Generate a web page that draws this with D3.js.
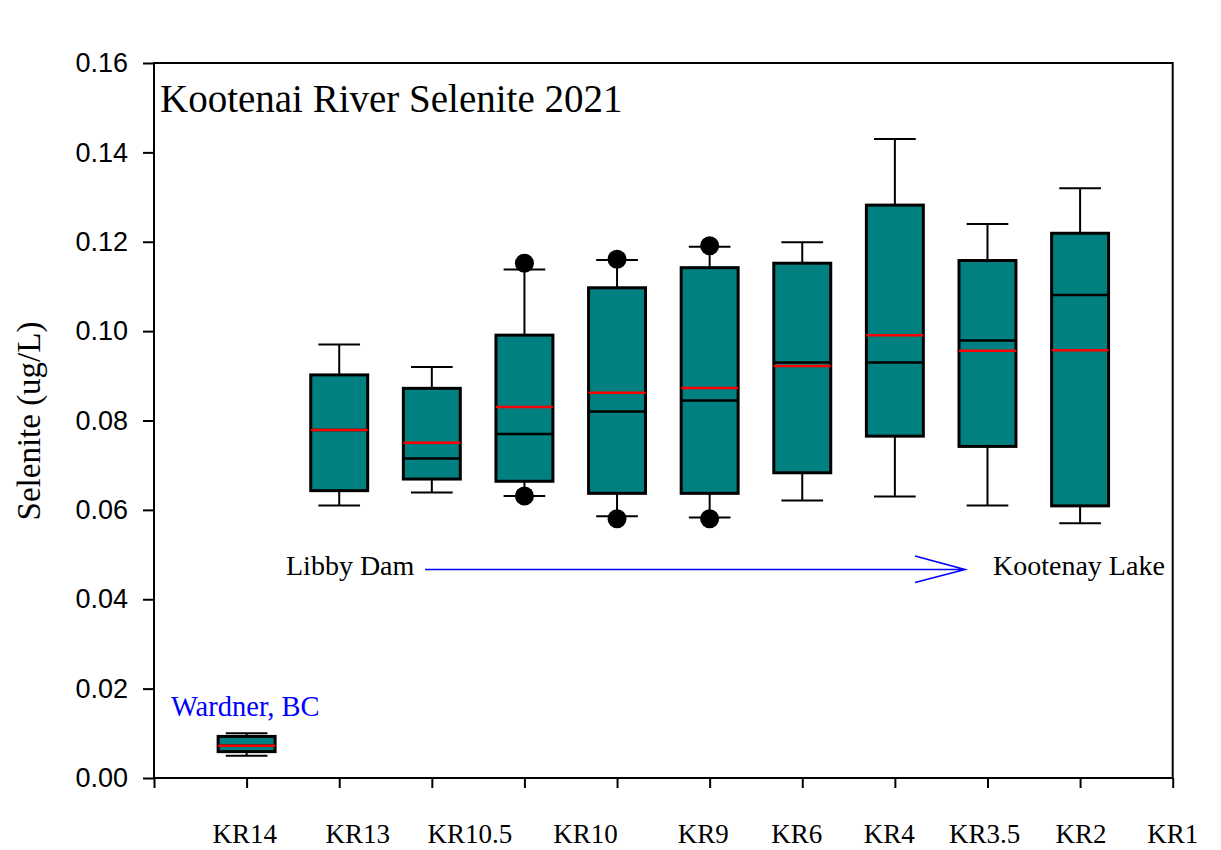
<!DOCTYPE html>
<html>
<head>
<meta charset="utf-8">
<script src="https://cdn.jsdelivr.net/npm/d3@7"></script>
<style>
  body { margin: 0; background: #fff; }
  svg { display: block; }
</style>
</head>
<body>
<svg id="chart" width="1221" height="850"></svg>
<script>
// site labels along the bottom, and where they were placed (in tick units)
var siteLabels = ["KR14", "KR13", "KR10.5", "KR10", "KR9", "KR6", "KR4", "KR3.5", "KR2", "KR1"];
var labelPos = [0.98, 2.20, 3.41, 4.66, 5.93, 6.94, 7.94, 8.97, 10.01, 11.0];

// box statistics, one per box position
var boxPos  = [1, 2, 3, 4, 5, 6, 7, 8, 9, 10];
var whiskLo = [0.0050, 0.0610, 0.0639, 0.0631, 0.0586, 0.0583, 0.0621, 0.0630, 0.0610, 0.0570];
var q1      = [0.0059, 0.0643, 0.0669, 0.0664, 0.0637, 0.0637, 0.0683, 0.0765, 0.0742, 0.0609];
var median  = [0.0072, 0.0779, 0.0715, 0.0770, 0.0820, 0.0845, 0.0930, 0.0930, 0.0979, 0.1081];
var mean    = [0.0072, 0.0779, 0.0750, 0.0830, 0.0862, 0.0873, 0.0922, 0.0991, 0.0956, 0.0957];
var q3      = [0.0093, 0.0902, 0.0872, 0.0991, 0.1097, 0.1142, 0.1152, 0.1282, 0.1158, 0.1219];
var whiskHi = [0.0100, 0.0970, 0.0920, 0.1138, 0.1159, 0.1189, 0.1199, 0.1430, 0.1240, 0.1320];

// outlying points
var outPos = [4, 4, 5, 5, 6, 6];
var outVal = [0.1152, 0.0631, 0.1161, 0.0580, 0.1191, 0.0580];

var yTicks = [0, 0.02, 0.04, 0.06, 0.08, 0.10, 0.12, 0.14, 0.16];

(function() {
var svg = d3.select("#chart");
var pLeft = 154, pTop = 63, pRight = 1172.7, pBottom = 778;

var x = d3.scaleLinear().domain([0, 11]).range([pLeft, pRight]);
var y = d3.scaleLinear().domain([0, 0.16]).range([pBottom, pTop]);

var serif = "'Liberation Serif', 'Times New Roman', serif";
var sans = "'Liberation Sans', Arial, sans-serif";

// y axis
var yAxis = svg.append("g")
  .attr("transform", "translate(" + pLeft + ",0)")
  .call(d3.axisLeft(y).tickValues(yTicks).tickFormat(d3.format(".2f")).tickSize(11).tickPadding(15));
yAxis.select(".domain").remove();
yAxis.selectAll("line").attr("stroke", "#000").attr("stroke-width", 2);
yAxis.selectAll("text").attr("font-family", sans).attr("font-size", 27).attr("fill", "#000");

// x axis ticks only
var xAxis = svg.append("g")
  .attr("transform", "translate(0," + pBottom + ")")
  .call(d3.axisBottom(x).tickValues(d3.range(0, 12)).tickFormat("").tickSize(10));
xAxis.select(".domain").remove();
xAxis.selectAll("line").attr("stroke", "#000").attr("stroke-width", 2);

// frame
svg.append("rect")
  .attr("x", pLeft).attr("y", pTop)
  .attr("width", pRight - pLeft).attr("height", pBottom - pTop)
  .attr("fill", "none").attr("stroke", "#000").attr("stroke-width", 2);

// x labels
svg.append("g").selectAll("text")
  .data(siteLabels)
  .join("text")
  .attr("x", function(d, i) { return x(labelPos[i]); })
  .attr("y", 843)
  .attr("text-anchor", "middle")
  .attr("font-family", serif)
  .attr("font-size", 27)
  .text(function(d) { return d; });

// y title
svg.append("text")
  .attr("transform", "translate(40,421) rotate(-90)")
  .attr("text-anchor", "middle")
  .attr("font-family", serif)
  .attr("font-size", 33)
  .text("Selenite (ug/L)");

// title
svg.append("text")
  .attr("x", 160).attr("y", 112)
  .attr("font-family", serif)
  .attr("font-size", 39)
  .text("Kootenai River Selenite 2021");

// boxes
var step = x(1) - x(0);
var boxW = step * 0.615;
var capW = step * 0.45;

var boxes = svg.append("g").selectAll("g")
  .data(boxPos)
  .join("g");

boxes.append("line")
  .attr("x1", function(d) { return x(d); }).attr("x2", function(d) { return x(d); })
  .attr("y1", function(d, i) { return y(whiskLo[i]); })
  .attr("y2", function(d, i) { return y(whiskHi[i]); })
  .attr("stroke", "#000").attr("stroke-width", 2);

boxes.append("line")
  .attr("x1", function(d) { return x(d) - capW / 2; }).attr("x2", function(d) { return x(d) + capW / 2; })
  .attr("y1", function(d, i) { return y(whiskLo[i]); })
  .attr("y2", function(d, i) { return y(whiskLo[i]); })
  .attr("stroke", "#000").attr("stroke-width", 2);

boxes.append("line")
  .attr("x1", function(d) { return x(d) - capW / 2; }).attr("x2", function(d) { return x(d) + capW / 2; })
  .attr("y1", function(d, i) { return y(whiskHi[i]); })
  .attr("y2", function(d, i) { return y(whiskHi[i]); })
  .attr("stroke", "#000").attr("stroke-width", 2);

boxes.append("rect")
  .attr("x", function(d) { return x(d) - boxW / 2; })
  .attr("width", boxW)
  .attr("y", function(d, i) { return y(q3[i]); })
  .attr("height", function(d, i) { return y(q1[i]) - y(q3[i]); })
  .attr("fill", "#008080").attr("stroke", "#000").attr("stroke-width", 3);

boxes.append("line")
  .attr("x1", function(d) { return x(d) - boxW / 2; }).attr("x2", function(d) { return x(d) + boxW / 2; })
  .attr("y1", function(d, i) { return y(median[i]); })
  .attr("y2", function(d, i) { return y(median[i]); })
  .attr("stroke", "#000").attr("stroke-width", 2.5);

boxes.append("line")
  .attr("x1", function(d) { return x(d) - boxW / 2; }).attr("x2", function(d) { return x(d) + boxW / 2; })
  .attr("y1", function(d, i) { return y(mean[i]); })
  .attr("y2", function(d, i) { return y(mean[i]); })
  .attr("stroke", "#ff0000").attr("stroke-width", 2.5);

// outliers
svg.append("g").selectAll("circle")
  .data(outVal)
  .join("circle")
  .attr("cx", function(d, i) { return x(outPos[i]); })
  .attr("cy", function(d) { return y(d); })
  .attr("r", 9.5)
  .attr("fill", "#000");

// annotations
svg.append("text")
  .attr("x", 286).attr("y", 575)
  .attr("font-family", serif).attr("font-size", 28)
  .text("Libby Dam");

svg.append("text")
  .attr("x", 993).attr("y", 575)
  .attr("font-family", serif).attr("font-size", 28)
  .text("Kootenay Lake");

svg.append("text")
  .attr("x", 171).attr("y", 716)
  .attr("font-family", serif).attr("font-size", 28.5)
  .attr("fill", "#0000ff")
  .text("Wardner, BC");

// arrow from Libby Dam to Kootenay Lake
var arrowY = 569.5;
svg.append("path")
  .attr("d", "M425," + arrowY + "H965 M915,556 L965," + arrowY + " L915,582.5")
  .attr("fill", "none").attr("stroke", "#0000ff").attr("stroke-width", 1.6);
})();
</script>
</body>
</html>
